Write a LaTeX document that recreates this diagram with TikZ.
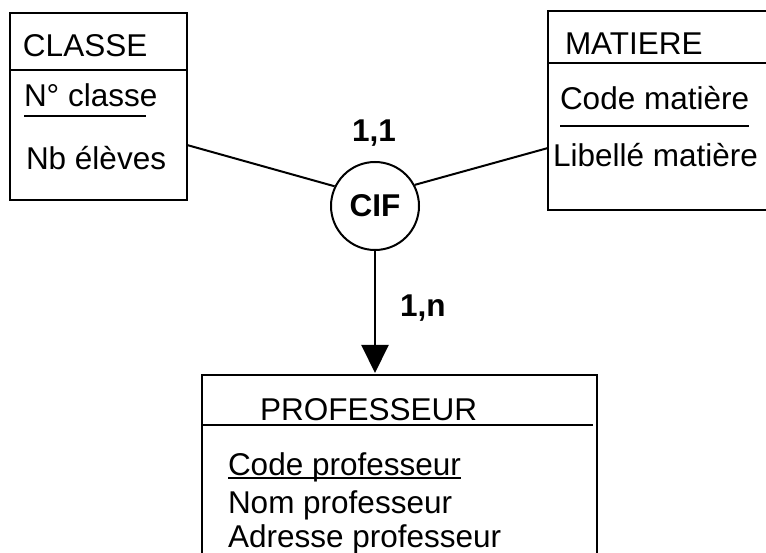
\documentclass[tikz,border=0pt]{standalone}
\usepackage{fontspec}
\setmainfont{Liberation Sans}
\usetikzlibrary{arrows.meta}
\begin{document}
\begin{tikzpicture}[x=1pt,y=-1pt,
  ent/.style={draw,line width=2.4pt,rectangle,inner sep=0pt,outer sep=0pt,anchor=north west},
  txt/.style={anchor=base west,inner sep=0pt,outer sep=0pt,font=\fontsize{31.5}{36}\selectfont},
  lbl/.style={anchor=base west,inner sep=0pt,outer sep=0pt,font=\fontsize{31.5}{36}\selectfont\bfseries},
  sepline/.style={line width=2.2pt},
  link/.style={line width=2pt},
  ul/.style={line width=2pt}]
\clip (0,0) rectangle (766,553);
\fill[white] (0,0) rectangle (766,553);

% CLASSE
\node[ent,minimum width=177pt,minimum height=187pt] (classe) at (10,13) {};
\draw[sepline] (classe.west |- 0,70) -- (classe.east |- 0,70);
\node[txt] (cl1) at (23,57) {CLASSE};
\node[txt] (cl2) at (24,107) {N° classe};
\node[txt] (cl3) at (26,170) {Nb élèves};
\draw[ul] ([yshift=-9pt]cl2.base west) -- ++(122,0);

% MATIERE
\node[ent,minimum width=232pt,minimum height=199pt] (mat) at (548,11) {};
\draw[sepline] (mat.west |- 0,63) -- (mat.east |- 0,63);
\node[txt] (ma1) at (565,55) {MATIERE};
\node[txt] (ma2) at (560,110) {Code matière};
\node[txt] (ma3) at (553,167) {Libellé matière};
\draw[ul] ([yshift=-16pt]ma2.base west) -- ([yshift=-16pt]ma2.base east);

% PROFESSEUR
\node[ent,minimum width=395pt,minimum height=200pt] (prof) at (202,375) {};
\draw[sepline] (prof.west |- 0,425) -- ([xshift=-4pt]prof.east |- 0,425);
\node[txt] (pr1) at (260,420) {PROFESSEUR};
\node[txt] (pr2) at (228,475) {Code professeur};
\node[txt] (pr3) at (228,513) {Nom professeur};
\node[txt] (pr4) at (228,547) {Adresse professeur};
\draw[ul] ([yshift=-3pt]pr2.base west) -- ([yshift=-3pt]pr2.base east);

% CIF
\node[draw,circle,line width=2pt,minimum size=88pt,inner sep=0pt,
      font=\fontsize{31.5}{36}\selectfont\bfseries] (cif) at (375,206) {CIF};

\draw[link] ([yshift=-38.5pt]classe.east) -- (cif.154);
\draw[link] ([yshift=-37.5pt]mat.west) -- (cif.28);
\draw[link,-{Triangle[length=28pt,width=27pt]},shorten >=2pt] (cif.south) -- (cif.south |- prof.north);

\node[lbl] (c11) at (352,142) {1,1};
\node[lbl] (c1n) at (400,317) {1,n};
\end{tikzpicture}
\end{document}
